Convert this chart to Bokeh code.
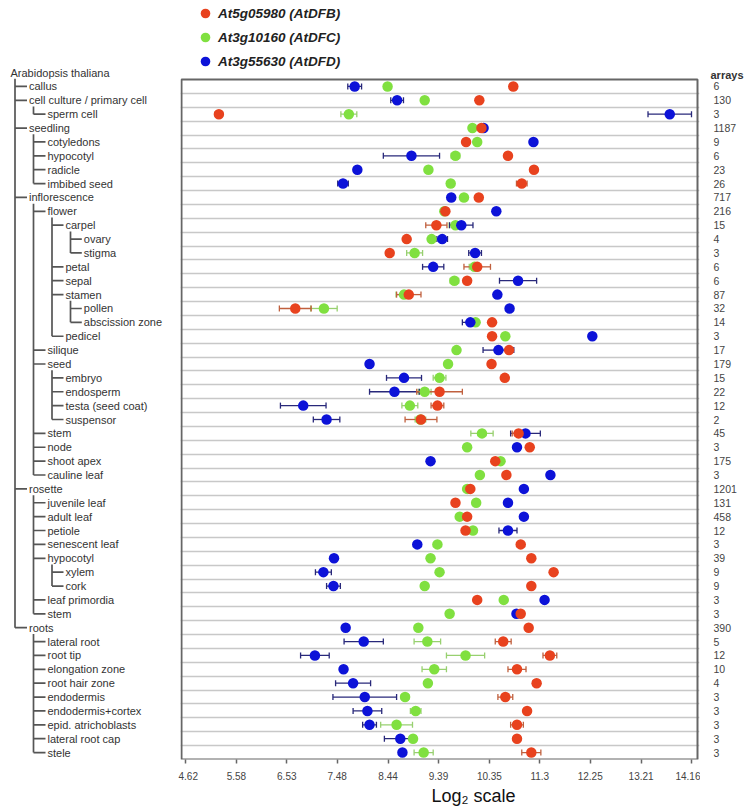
from bokeh.plotting import figure
from bokeh.models import (Range1d, FixedTicker, Grid, ColumnDataSource, Whisker,
                          TeeHead, Legend, LegendItem, Title)
from bokeh.layouts import row
from bokeh.embed import file_html
from bokeh.resources import INLINE
from bokeh.core.properties import value

# ---------------- data ----------------
root_label = "Arabidopsis thaliana"
tissues = [
    "callus", "cell culture / primary cell", "sperm cell", "seedling", "cotyledons",
    "hypocotyl", "radicle", "imbibed seed", "inflorescence", "flower", "carpel",
    "ovary", "stigma", "petal", "sepal", "stamen", "pollen", "abscission zone",
    "pedicel", "silique", "seed", "embryo", "endosperm", "testa (seed coat)",
    "suspensor", "stem", "node", "shoot apex", "cauline leaf", "rosette",
    "juvenile leaf", "adult leaf", "petiole", "senescent leaf", "hypocotyl",
    "xylem", "cork", "leaf primordia", "stem", "roots", "lateral root", "root tip",
    "elongation zone", "root hair zone", "endodermis", "endodermis+cortex",
    "epid. atrichoblasts", "lateral root cap", "stele",
]
levels = [1, 1, 2, 1, 2, 2, 2, 2, 1, 2, 3, 4, 4, 3, 3, 3, 4, 4, 3, 2, 2, 3, 3, 3, 3,
          2, 2, 2, 2, 1, 2, 2, 2, 2, 2, 3, 3, 2, 2, 1, 2, 2, 2, 2, 2, 2, 2, 2, 2]
arrays = [6, 130, 3, 1187, 9, 6, 23, 26, 717, 216, 15, 4, 3, 6, 6, 87, 32, 14, 3, 17,
          179, 15, 22, 12, 2, 45, 3, 175, 3, 1201, 131, 458, 12, 3, 39, 9, 9, 3, 3,
          390, 5, 12, 10, 4, 3, 3, 3, 3, 3]

series_names = ["At5g05980 (AtDFB)", "At3g10160 (AtDFC)", "At3g55630 (AtDFD)"]

dfb = [10.80, 10.16, 5.25, 10.20, 9.91, 10.70, 11.19, 10.96, 10.15, 9.52, 9.35, 8.79,
       8.47, 10.12, 9.93, 8.83, 6.69, 10.40, 10.40, 10.72, 10.39, 10.64, 9.41, 9.37,
       9.06, 10.90, 11.11, 10.46, 10.67, 9.99, 9.71, 9.93, 9.90, 10.94, 11.14, 11.56,
       11.14, 10.12, 10.94, 11.09, 10.61, 11.49, 10.87, 11.24, 10.65, 11.06, 10.87,
       10.87, 11.14]
dfb_err = [0.06, 0, 0.07, 0, 0.06, 0, 0, 0.10, 0, 0.04, 0.20, 0, 0, 0.25, 0, 0.23,
           0.30, 0, 0, 0, 0, 0.05, 0.43, 0.12, 0.30, 0.12, 0, 0, 0, 0, 0, 0, 0, 0, 0,
           0.05, 0.05, 0, 0, 0, 0.15, 0.13, 0.17, 0.07, 0.14, 0, 0.12, 0, 0.18]

dfc = [8.43, 9.13, 7.70, 10.03, 10.12, 9.71, 9.20, 9.62, 9.87, 9.50, 9.71, 9.26,
       8.94, 10.07, 9.69, 8.74, 7.23, 10.09, 10.65, 9.73, 9.57, 9.41, 9.13, 8.85,
       9.05, 10.21, 9.93, 10.56, 10.17, 9.93, 10.10, 9.79, 10.04, 9.37, 9.24, 9.41,
       9.13, 10.62, 9.60, 9.01, 9.18, 9.90, 9.31, 9.19, 8.76, 8.96, 8.60, 8.91, 9.11]
dfc_err = [0, 0, 0.15, 0, 0, 0.08, 0, 0.05, 0, 0, 0.12, 0.05, 0.15, 0.10, 0.08, 0.15,
           0.25, 0.05, 0, 0.06, 0, 0.12, 0.12, 0.15, 0.10, 0.21, 0, 0.05, 0, 0, 0,
           0.05, 0, 0, 0, 0, 0, 0, 0, 0, 0.25, 0.36, 0.23, 0.05, 0.07, 0.10, 0.30,
           0.05, 0.18]

dfd = [7.81, 8.61, 13.75, 10.24, 11.18, 8.88, 7.86, 7.59, 9.63, 10.48, 9.82, 9.46,
       10.08, 9.29, 10.89, 10.50, 10.73, 9.99, 12.29, 10.52, 8.09, 8.74, 8.56, 6.84,
       7.28, 11.03, 10.87, 9.24, 11.50, 11.00, 10.70, 11.00, 10.70, 8.99, 7.42, 7.22,
       7.41, 11.39, 10.86, 7.64, 7.98, 7.06, 7.60, 7.78, 8.00, 8.05, 8.09, 8.67, 8.71]
dfd_err = [0.13, 0.12, 0.41, 0, 0.06, 0.53, 0.05, 0.10, 0, 0, 0.22, 0.10, 0.12, 0.20,
           0.35, 0, 0, 0.15, 0, 0.29, 0.05, 0.33, 0.47, 0.43, 0.25, 0.28, 0, 0.06, 0,
           0, 0, 0, 0.17, 0, 0, 0.15, 0.13, 0, 0, 0, 0.37, 0.27, 0.05, 0.33, 0.60,
           0.27, 0.13, 0.30, 0.05]

tick_values = [4.62, 5.58, 6.53, 7.48, 8.44, 9.39, 10.35, 11.3, 12.25, 13.21, 14.16]
tick_labels = ["4.62", "5.58", "6.53", "7.48", "8.44", "9.39", "10.35", "11.3",
               "12.25", "13.21", "14.16"]

# ---------------- layout constants ----------------
FONT = "Liberation Sans"
H = 808
TOP = 79              # px from page top to the plot box
FRAME_H = 680         # height of the plot box
BOTTOM = H - TOP - FRAME_H
N = len(tissues)
ROW_PX = FRAME_H / N
TREE_W = 178
MAIN_W = 522
CNT_W = 46
side_top = -0.5 - TOP / ROW_PX
X_LO, X_HI = 4.545, 14.273      # value range covered by the plot box
BOX_W = 516
PX_PER_UNIT = BOX_W / (X_HI - X_LO)

ys = list(range(N))

# ---------------- tree figure ----------------
tree = figure(width=TREE_W, height=H, x_range=Range1d(0, TREE_W),
              y_range=Range1d(N - 0.5, side_top), x_axis_location=None,
              y_axis_location=None, toolbar_location=None, output_backend="svg",
              min_border_left=0, min_border_right=0, min_border_top=0,
              min_border_bottom=BOTTOM, outline_line_color=None, frame_align=False)
tree.xgrid.visible = False
tree.ygrid.visible = False

text_x = [10, 28.5, 47, 65, 83.3]
vert_x = [14.5, 33, 51.5, 70]

all_levels = [0] + levels
all_y = [-1] + ys
sx0, sy0, sx1, sy1 = [], [], [], []
for i, lv in enumerate(all_levels):
    children = []
    for j in range(i + 1, len(all_levels)):
        if all_levels[j] <= lv:
            break
        if all_levels[j] == lv + 1:
            children.append(j)
    if children:
        vx = vert_x[lv]
        sx0.append(vx); sx1.append(vx)
        sy0.append(all_y[i] + 0.45); sy1.append(all_y[children[-1]])
        for c in children:
            sx0.append(vx); sx1.append(text_x[lv + 1] - 2)
            sy0.append(all_y[c]); sy1.append(all_y[c])

tree.segment(x0=sx0, y0=sy0, x1=sx1, y1=sy1, line_color="#555555", line_width=1.7)
tree.text(x=[text_x[lv] for lv in all_levels], y=all_y, text=[root_label] + tissues,
          text_font=value(FONT), text_font_size="11px", text_baseline="middle",
          text_align="left", text_color="#333333")

# ---------------- main figure ----------------
BL, BR = 2, 1                      # borders (px) left/right of the frame
pad_l = 1 / PX_PER_UNIT            # box sits 1px inside the frame on the left
pad_r = (MAIN_W - BL - BR - BOX_W - 1) / PX_PER_UNIT
p = figure(width=MAIN_W, height=H, x_range=Range1d(X_LO - pad_l, X_HI + pad_r),
           y_range=Range1d(N - 0.5, side_top), y_axis_location=None,
           toolbar_location=None, output_backend="svg",
           min_border_left=BL, min_border_right=BR, min_border_top=0,
           min_border_bottom=BOTTOM, outline_line_color=None, frame_align=False)
p.xgrid.visible = False
p.ygrid.visible = False
p.add_layout(Grid(dimension=1, ticker=FixedTicker(ticks=[i + 0.5 for i in range(N - 1)]),
                  grid_line_color="#c8c8c8", grid_line_width=1.5))
# plot box
p.quad(left=[X_LO], right=[X_HI], top=[-0.5], bottom=[N - 0.5], fill_color=None,
       line_color="#666666", line_width=2)

ax = p.xaxis[0]
ax.ticker = FixedTicker(ticks=tick_values)
ax.major_label_overrides = dict(zip(tick_values, tick_labels))
ax.major_tick_in = 0
ax.major_tick_out = 4
ax.minor_tick_out = 0
ax.minor_tick_in = 0
ax.axis_line_color = None
ax.major_tick_line_color = "#666666"
ax.major_tick_line_width = 1.5
ax.major_label_standoff = 8
ax.major_label_text_font = FONT
ax.major_label_text_font_size = "10px"
ax.major_label_text_color = "#444444"

series = [
    (dfc, dfc_err, "#80e040", "#98d070"),
    (dfd, dfd_err, "#0c12d8", "#28287a"),
    (dfb, dfb_err, "#e8421e", "#c0603e"),
]
renderers = []
for vals, errs, col, wcol in series:
    keep = [i for i in range(N) if errs[i] > 0]
    wsrc = ColumnDataSource(dict(
        y=[ys[i] for i in keep],
        lower=[vals[i] - errs[i] for i in keep],
        upper=[vals[i] + errs[i] for i in keep]))
    w = Whisker(source=wsrc, base="y", lower="lower", upper="upper",
                dimension="width", line_color=wcol, line_width=1.3,
                upper_head=TeeHead(size=6, line_color=wcol, line_width=1.3),
                lower_head=TeeHead(size=6, line_color=wcol, line_width=1.3),
                level="underlay")
    p.add_layout(w)
for vals, errs, col, wcol in series:
    src = ColumnDataSource(dict(x=vals, y=ys))
    r = p.scatter(x="x", y="y", source=src, size=10.5, fill_color=col,
                  line_color=None)
    renderers.append(r)

r_dfc, r_dfd, r_dfb = renderers
legend = Legend(items=[LegendItem(label=series_names[0], renderers=[r_dfb]),
                       LegendItem(label=series_names[1], renderers=[r_dfc]),
                       LegendItem(label=series_names[2], renderers=[r_dfd])],
                location=(13, FRAME_H + 6), orientation="vertical",
                glyph_width=24, glyph_height=24, spacing=-1, label_standoff=1,
                padding=0, margin=0, border_line_alpha=0, background_fill_alpha=0,
                label_text_font=FONT, label_text_font_style="bold italic",
                label_text_font_size="13.5px", label_text_color="#222222",
                label_height=20)
p.add_layout(legend)

p.add_layout(Title(text="Log\u2082 scale", align="left", offset=251, standoff=2,
                   text_font=FONT, text_font_size="18px", text_font_style="normal",
                   text_color="#111111"), "below")

# ---------------- counts figure ----------------
cnt = figure(width=CNT_W, height=H, x_range=Range1d(0, CNT_W),
             y_range=Range1d(N - 0.5, side_top), x_axis_location=None,
             y_axis_location=None, toolbar_location=None, output_backend="svg",
             min_border_left=0, min_border_right=0, min_border_top=0,
             min_border_bottom=BOTTOM, outline_line_color=None, frame_align=False)
cnt.xgrid.visible = False
cnt.ygrid.visible = False
cnt.text(x=[13] * N, y=ys, text=[str(a) for a in arrays], text_font=value(FONT),
         text_font_size="10.5px", text_baseline="middle", text_align="left",
         text_color="#444444")
cnt.text(x=[10], y=[-0.79], text=["arrays"], text_font=value(FONT),
         text_font_size="11px", text_font_style="bold", text_baseline="middle",
         text_align="left", text_color="#333333")

layout = row(tree, p, cnt)
open("out.html", "w").write(file_html(layout, INLINE, title="Genevestigator anatomy"))
